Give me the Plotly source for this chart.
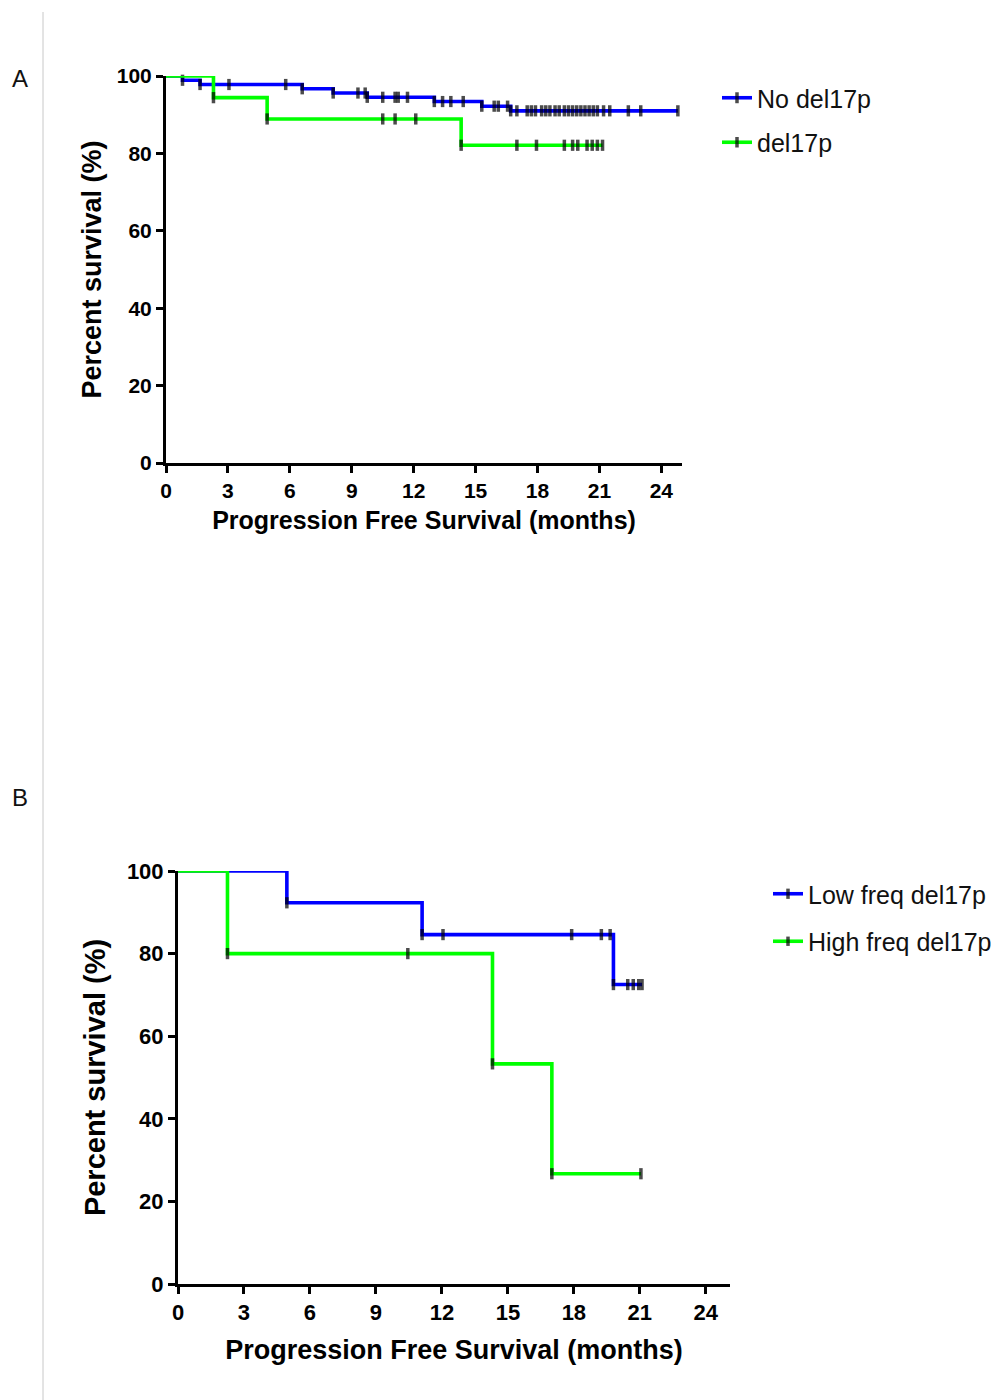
import plotly.graph_objects as go

# ---------------- Data ----------------
# Panel A
a_no_event_t = [0.8, 1.65, 6.6, 8.1, 9.75, 13.0, 15.3, 16.7]
a_no_event_s = [98.9, 97.8, 96.7, 95.6, 94.5, 93.4, 92.2, 91.0]
a_no_censor_t = [3.05, 5.8, 9.3, 9.65, 10.5, 11.1, 11.25, 11.7, 13.4, 13.8, 14.4,
                 15.9, 16.1, 16.55, 17.0, 17.5, 17.7, 17.9, 18.2, 18.4, 18.6, 18.85,
                 19.05, 19.3, 19.5, 19.7, 19.9, 20.1, 20.3, 20.5, 20.7, 20.9, 21.2,
                 21.5, 22.4, 23.0, 24.8]

a_del_event_t = [2.3, 4.9, 14.3]
a_del_event_s = [94.4, 88.9, 82.1]
a_del_censor_t = [10.5, 11.1, 12.1, 17.0, 17.95, 19.3, 19.7, 19.95, 20.4, 20.65,
                  20.9, 21.15]

# Panel B
b_low_event_t = [4.95, 11.1, 19.8]
b_low_event_s = [92.3, 84.6, 72.5]
b_low_censor_t = [12.05, 17.9, 19.25, 19.65, 20.45, 20.7, 20.95, 21.1]

b_high_event_t = [2.25, 14.3, 17.0]
b_high_event_s = [80.0, 53.3, 26.7]
b_high_censor_t = [10.45, 21.05]

names_a = ["No del17p", "del17p"]
names_b = ["Low freq del17p", "High freq del17p"]
x_ticks = [0, 3, 6, 9, 12, 15, 18, 21, 24]
y_ticks = [0, 20, 40, 60, 80, 100]
x_title = "Progression Free Survival (months)"
y_title = "Percent survival (%)"
panel_labels = ["A", "B"]

BLUE = "#0000ff"
GREEN = "#00ff00"
FONT = "Liberation Sans"


def km_points(ev_t, ev_s, cen_t):
    pts = [(t, "e", s) for t, s in zip(ev_t, ev_s)] + [(t, "c", None) for t in cen_t]
    pts.sort(key=lambda p: p[0])
    xs, ys = [0], [100]
    cur = 100
    for t, kind, s in pts:
        if kind == "e":
            cur = s
        xs.append(t)
        ys.append(cur)
    sizes = [0] + [8] * (len(xs) - 1)
    return xs, ys, sizes


fig = go.Figure()


def add_series(ev_t, ev_s, cen_t, name, color, xa, ya, legend):
    xs, ys, sizes = km_points(ev_t, ev_s, cen_t)
    fig.add_trace(go.Scatter(
        x=xs, y=ys, mode="lines+markers", name=name,
        line=dict(color=color, width=3.6, shape="hv"),
        marker=dict(symbol="line-ns", size=sizes, color="black",
                    line=dict(color="black", width=3.5)),
        xaxis=xa, yaxis=ya, legend=legend, legendgroup=name,
        cliponaxis=False,
    ))


add_series(a_no_event_t, a_no_event_s, a_no_censor_t, names_a[0], BLUE, "x", "y", "legend")
add_series(a_del_event_t, a_del_event_s, a_del_censor_t, names_a[1], GREEN, "x", "y", "legend")
add_series(b_low_event_t, b_low_event_s, b_low_censor_t, names_b[0], BLUE, "x2", "y2", "legend2")
add_series(b_high_event_t, b_high_event_s, b_high_censor_t, names_b[1], GREEN, "x2", "y2", "legend2")

W, H = 1006, 1400


def px_x(p):
    return p / W


def px_y(p):
    return 1 - p / H


def xaxis_cfg(domain, rng, anchor, tsize, titlesize, standoff):
    return dict(domain=domain, range=rng, anchor=anchor, tickvals=x_ticks,
                showline=True, linecolor="black", linewidth=3, mirror=False,
                ticks="outside", ticklen=7, tickwidth=3, tickcolor="black",
                showgrid=False, zeroline=False, fixedrange=True,
                tickfont=dict(family=FONT, size=tsize, color="black", weight="bold"),
                title=dict(text=x_title, standoff=standoff,
                           font=dict(family=FONT, size=titlesize, color="black", weight="bold")))


def yaxis_cfg(domain, anchor, tsize, titlesize, standoff):
    return dict(domain=domain, range=[0, 100], anchor=anchor, tickvals=y_ticks,
                showline=True, linecolor="black", linewidth=3,
                ticks="outside", ticklen=7, tickwidth=3, tickcolor="black",
                showgrid=False, zeroline=False, fixedrange=True,
                tickfont=dict(family=FONT, size=tsize, color="black", weight="bold"),
                title=dict(text=y_title, standoff=standoff,
                           font=dict(family=FONT, size=titlesize, color="black", weight="bold")))


fig.update_layout(
    width=W, height=H,
    margin=dict(l=0, r=0, t=0, b=0, autoexpand=False),
    paper_bgcolor="white", plot_bgcolor="white",
    xaxis=xaxis_cfg([px_x(166), px_x(682)], [0, 25], "y", 21, 25, 11),
    yaxis=yaxis_cfg([px_y(463), px_y(76)], "x", 21, 27, 8),
    xaxis2=xaxis_cfg([px_x(178), px_x(730)], [0, 25.1], "y2", 22, 27, 16),
    yaxis2=yaxis_cfg([px_y(1284), px_y(871)], "x2", 22, 29, 13),
    legend=dict(x=px_x(717), y=px_y(75), xanchor="left", yanchor="top",
                bgcolor="rgba(0,0,0,0)", tracegroupgap=9,
                font=dict(family=FONT, size=25, color="#111")),
    legend2=dict(x=px_x(768), y=px_y(871), xanchor="left", yanchor="top",
                 bgcolor="rgba(0,0,0,0)", tracegroupgap=12,
                 font=dict(family=FONT, size=25, color="#111")),
    showlegend=True,
)

# thin vertical separator line at the left
fig.add_shape(type="line", xref="paper", yref="paper",
              x0=px_x(43), x1=px_x(43), y0=px_y(12), y1=0,
              line=dict(color="#c8c8c8", width=1))

for lab, ypos in zip(panel_labels, [78, 797]):
    fig.add_annotation(text=lab, xref="paper", yref="paper", x=px_x(20), y=px_y(ypos),
                       xanchor="center", yanchor="middle", showarrow=False,
                       font=dict(family=FONT, size=24, color="#111"))

fig.write_html("out.html")
